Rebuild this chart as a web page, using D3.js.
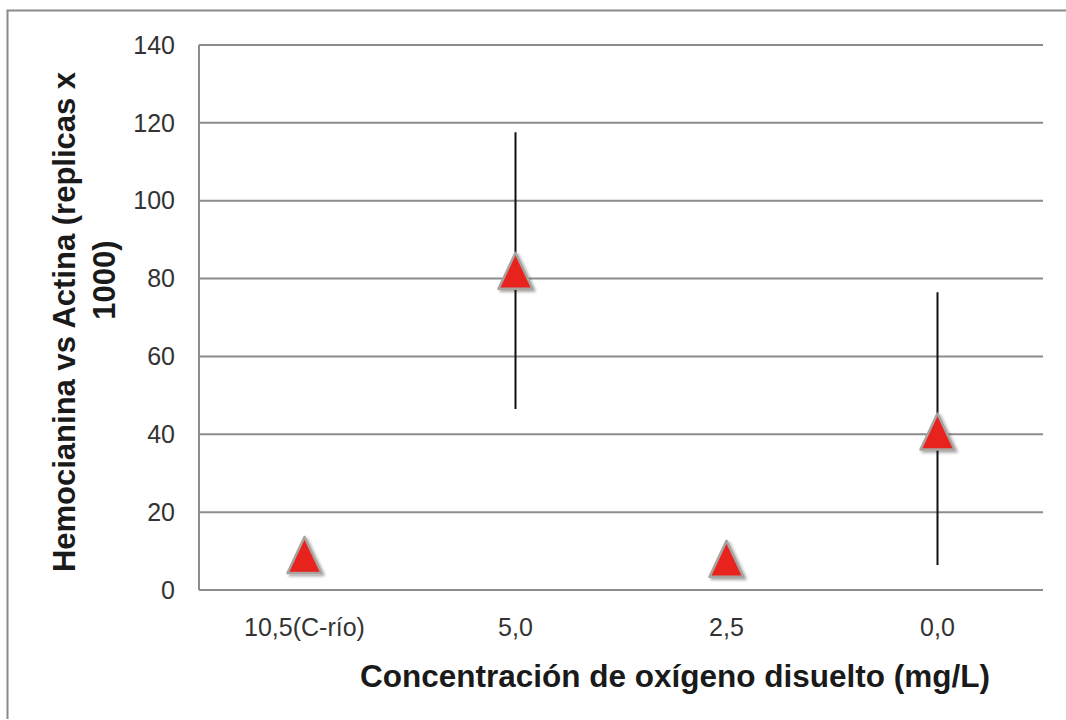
<!DOCTYPE html>
<html><head><meta charset="utf-8">
<script src="https://cdn.jsdelivr.net/npm/d3@7"></script>
<style>body{margin:0;background:#fff}svg{display:block}</style>
</head><body>
<svg id="c" width="1066" height="720"></svg>
<script>
const categories = ["10,5(C-río)", "5,0", "2,5", "0,0"];
const means = [9, 82, 8, 40.7];
const errLow = [null, 46.5, null, 6.4];
const errHigh = [null, 117.6, null, 76.5];
const yTicks = [0, 20, 40, 60, 80, 100, 120, 140];
const yTitleLines = ["Hemocianina vs Actina (replicas x", "1000)"];
const xTitle = "Concentración de oxígeno disuelto (mg/L)";

const svg = d3.select("#c");
const font = "'Liberation Sans', Arial, Helvetica, sans-serif";
const L = 199, R = 1043, T = 45, B = 590;

// outer frame
svg.append("path").attr("d", "M7.5,719 L7.5,10.5 L1066,10.5")
  .attr("fill", "none").attr("stroke", "#8a8a8a").attr("stroke-width", 2);

const x = d3.scaleBand().domain(categories).range([L, R]);
const y = d3.scaleLinear().domain([0, 140]).range([B, T]);

// gridlines
svg.append("g").selectAll("line").data(yTicks.filter(d => d > 0)).join("line")
  .attr("x1", L).attr("x2", R).attr("y1", d => y(d)).attr("y2", d => y(d))
  .attr("stroke", "#8c8c8c").attr("stroke-width", 2);

// axes lines
svg.append("line").attr("x1", L).attr("x2", L).attr("y1", T).attr("y2", B)
  .attr("stroke", "#8c8c8c").attr("stroke-width", 2);
svg.append("line").attr("x1", L).attr("x2", R).attr("y1", B).attr("y2", B)
  .attr("stroke", "#8c8c8c").attr("stroke-width", 2);

// y tick labels
svg.append("g").selectAll("text").data(yTicks).join("text")
  .attr("x", 175).attr("y", d => y(d)).attr("dy", "0.35em")
  .attr("text-anchor", "end").attr("font-family", font).attr("font-size", 25)
  .attr("fill", "#333").text(d => d);

// x tick labels
svg.append("g").selectAll("text").data(categories).join("text")
  .attr("x", d => x(d) + x.bandwidth() / 2).attr("y", 627).attr("dy", "0.35em")
  .attr("text-anchor", "middle").attr("font-family", font).attr("font-size", 25)
  .attr("fill", "#333").text(d => d);

// error bars
const pts = categories.map((c, i) => ({c, m: means[i], lo: errLow[i], hi: errHigh[i]}));
svg.append("g").selectAll("line").data(pts.filter(p => p.lo != null)).join("line")
  .attr("x1", p => x(p.c) + x.bandwidth() / 2).attr("x2", p => x(p.c) + x.bandwidth() / 2)
  .attr("y1", p => y(p.hi)).attr("y2", p => y(p.lo))
  .attr("stroke", "#111").attr("stroke-width", 2);

// markers
const hw = 17, hh = 18;
const tri = p => {
  const cx = x(p.c) + x.bandwidth() / 2, cy = y(p.m);
  return `M${cx},${cy - hh} L${cx + hw},${cy + hh} L${cx - hw},${cy + hh} Z`;
};
const defs = svg.append("defs");
const f = defs.append("filter").attr("id", "sh").attr("x", "-50%").attr("y", "-50%").attr("width", "200%").attr("height", "200%");
f.append("feDropShadow").attr("dx", 2).attr("dy", 2).attr("stdDeviation", 1.5).attr("flood-color", "#000").attr("flood-opacity", 0.35);
svg.append("g").selectAll("path").data(pts).join("path")
  .attr("d", tri).attr("fill", "#e8211c").attr("stroke", "#a9a3a0").attr("stroke-width", 2.5)
  .attr("stroke-linejoin", "round").attr("filter", "url(#sh)");

// y title
const yt = svg.append("text").attr("transform", "translate(64,322) rotate(-90)")
  .attr("text-anchor", "middle").attr("font-family", font).attr("font-size", 31)
  .attr("font-weight", "bold").attr("fill", "#1a1a1a");
yt.selectAll("tspan").data(yTitleLines).join("tspan")
  .attr("x", (d, i) => i === 0 ? 0 : 42)
  .attr("dy", (d, i) => i === 0 ? "0.35em" : 40).text(d => d);

// x title
svg.append("text").attr("x", 675).attr("y", 676).attr("dy", "0.35em")
  .attr("text-anchor", "middle").attr("font-family", font).attr("font-size", 31.5)
  .attr("font-weight", "bold").attr("fill", "#1a1a1a").text(xTitle);
</script>
</body></html>
